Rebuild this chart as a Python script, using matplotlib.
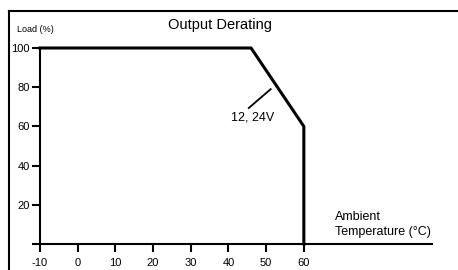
import matplotlib
matplotlib.use("Agg")
import matplotlib.pyplot as plt
from matplotlib.lines import Line2D

# donnees de la courbe de declassement
temp = [-10, 46, 60, 60]
load = [100, 100, 60, 0]

x_ticks = [-10, 0, 10, 20, 30, 40, 50, 60]
y_ticks = [0, 20, 40, 60, 80, 100]
y_labels = ['', '20', '40', '60', '80', '100']

# trait de rappel pour l'etiquette
lead_x = [45.4, 51.2]
lead_y = [69.4, 79.0]
label_txt = "12, 24V"

plt.rcParams['font.family'] = ['Liberation Sans', 'DejaVu Sans']
plt.rcParams['axes.unicode_minus'] = False

fig = plt.figure(figsize=(4.58, 2.70), dpi=100)
ax = fig.add_axes([40/458, 26/270, 392/458, 196/270])

ax.plot(temp, load, color='black', lw=2.2, clip_on=False, solid_joinstyle='miter')
ax.plot(lead_x, lead_y, color='black', lw=1.3)
ax.text(40.6, 64.3, label_txt, fontsize=9, va='center', ha='left')

ax.set_xlim(-10, 94)
ax.set_ylim(0, 100)
ax.set_xticks(x_ticks)
ax.set_yticks(y_ticks)
ax.set_yticklabels(y_labels)
ax.spines['top'].set_visible(False)
ax.spines['right'].set_visible(False)
for s in ['left', 'bottom']:
    ax.spines[s].set_linewidth(1.5)
ax.tick_params(axis='both', direction='out', length=5.5, width=1.5, labelsize=8)
ax.tick_params(axis='x', pad=4.5)
ax.tick_params(axis='y', pad=2)
ax.patch.set_visible(False)

# titre et libelles
fig.text(220/458, 1 - 25/270, "Output Derating", fontsize=10.5, ha='center', va='center')
fig.text(35/458, 1 - 30/270, "Load (%)", fontsize=6.5, ha='center', va='center')
fig.text(335/458, 1 - 224.5/270, "Ambient\nTemperature (°C)", fontsize=9,
         ha='left', va='center', linespacing=1.35)

# cadre
fig.add_artist(Line2D([9/458, 1], [1 - 11/270, 1 - 11/270], color='black', lw=1.5))
fig.add_artist(Line2D([9/458, 9/458], [0, 1 - 11/270], color='black', lw=1.5))

fig.savefig('out.png', dpi=100)
